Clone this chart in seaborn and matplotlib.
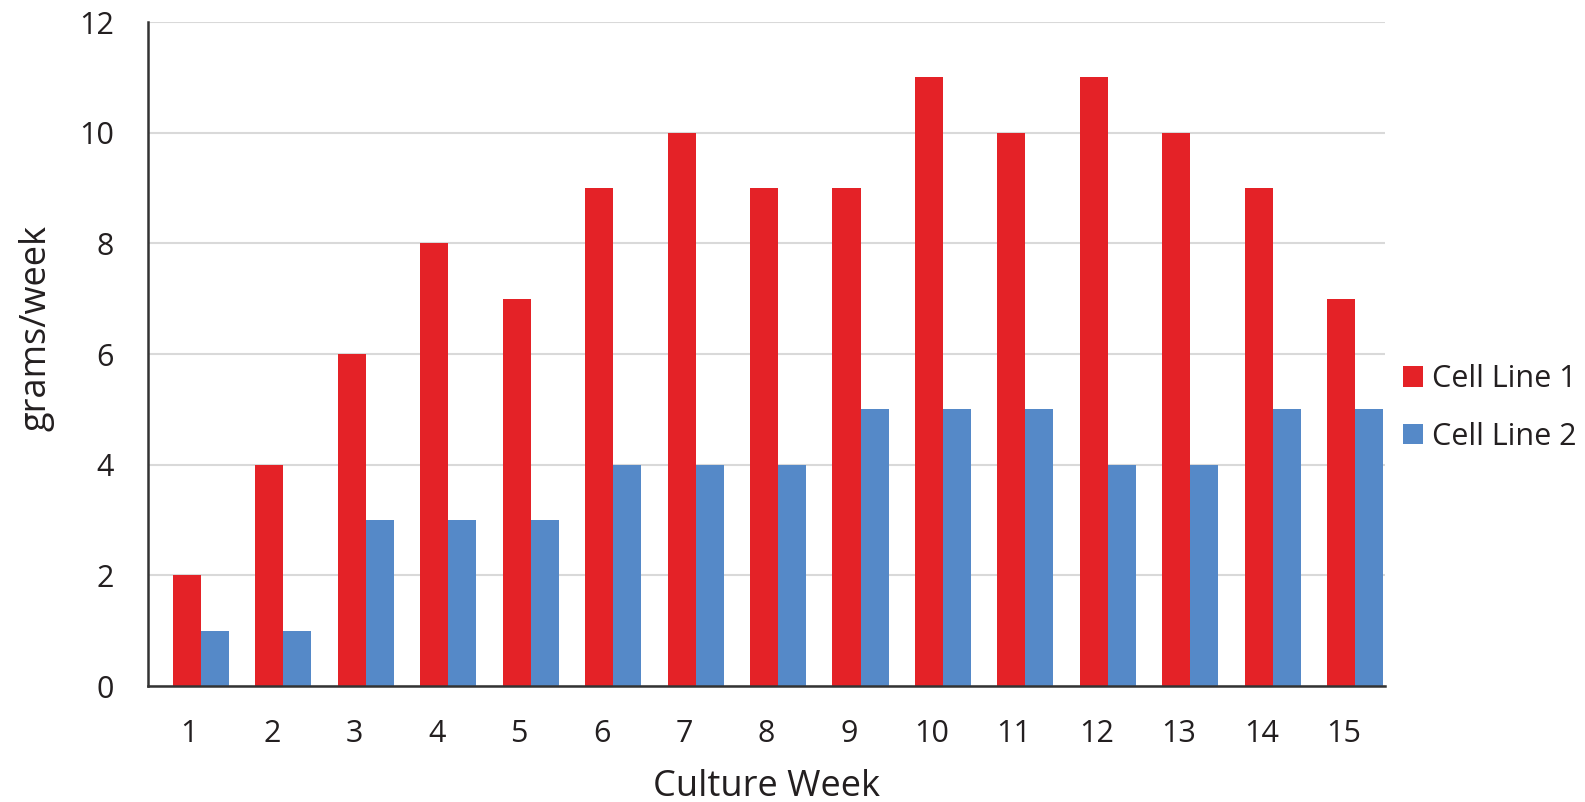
import pandas as pd
import matplotlib
matplotlib.use("Agg")
import matplotlib.pyplot as plt
import seaborn as sns

# data
weeks = list(range(1, 16))
cell_line_1 = [2, 4, 6, 8, 7, 9, 10, 9, 9, 11, 10, 11, 10, 9, 7]
cell_line_2 = [1, 1, 3, 3, 3, 4, 4, 4, 5, 5, 5, 4, 4, 5, 5]
series_names = ["Cell Line 1", "Cell Line 2"]
y_ticks = [0, 2, 4, 6, 8, 10, 12]

df = pd.DataFrame({
    "week": weeks * 2,
    "value": cell_line_1 + cell_line_2,
    "series": [series_names[0]] * len(weeks) + [series_names[1]] * len(weeks),
})

sns.set_theme(style="white")
plt.rcParams["font.family"] = ["Open Sans", "DejaVu Sans"]

fig = plt.figure(figsize=(15.85, 8.02), dpi=100)
ax = fig.add_axes([148 / 1585, 1 - 686 / 802, (1385 - 148) / 1585, (686 - 22) / 802])

sns.barplot(data=df, x="week", y="value", hue="series",
            palette=["#E42227", "#5589C8"], width=0.68, gap=0,
            saturation=1, ax=ax, linewidth=0)

# bar groups sit a bit to the right of their category labels (as in the original)
shift = 0.50 - 0.34 - 0.30
ax.set_xlim(-0.34 - 0.30, -0.34 - 0.30 + len(weeks))
ax.set_xticks([i + shift for i in range(len(weeks))])
ax.set_xticklabels([str(w) for w in weeks])

ax.set_ylim(0, 12)
ax.set_yticks(y_ticks)
ax.yaxis.grid(True, color="#D9D9D9", lw=1.5)
ax.set_axisbelow(True)
for s in ["top", "right"]:
    ax.spines[s].set_visible(False)
for s in ["left", "bottom"]:
    ax.spines[s].set_color("#333333")
    ax.spines[s].set_linewidth(1.8)
ax.tick_params(axis="both", length=0, labelsize=22, colors="#231F20")
ax.tick_params(axis="x", pad=24)
ax.tick_params(axis="y", pad=24.5)

ax.set_xlabel("Culture Week", fontsize=26, color="#231F20", labelpad=14)
ax.set_ylabel("grams/week", fontsize=26, color="#231F20", ha="center", va="center")
ax.yaxis.set_label_coords((37 - 148) / 1237, (686 - 328) / 664)

ax.legend(loc="center left", bbox_to_anchor=(1403 / 1585, 1 - 408 / 802),
          bbox_transform=fig.transFigure, frameon=False, borderpad=0,
          borderaxespad=0, fontsize=22, handlelength=0.65, handleheight=0.65,
          handletextpad=0.3, labelspacing=0.9, labelcolor="#231F20")

fig.savefig("out.png", dpi=100)
